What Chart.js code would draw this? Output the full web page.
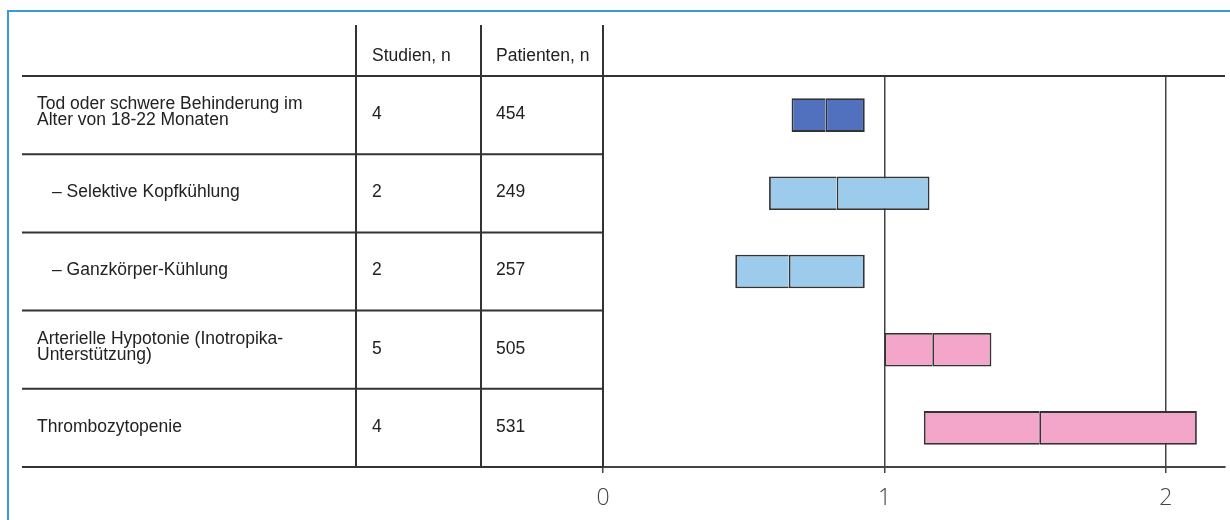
<!DOCTYPE html>
<html lang="de">
<head>
<meta charset="utf-8">
<title>Hypothermie – Meta-Analyse</title>
<script src="https://cdn.jsdelivr.net/npm/chart.js@4.4.1/dist/chart.umd.min.js"></script>
<style>
  html, body { margin: 0; padding: 0; background: #fff; }
  #wrap { position: relative; width: 1230px; height: 520px; }
  /* blue frame, only top and left edges are visible */
  #wrap::before {
    content: ""; position: absolute; left: 7px; top: 10px; right: 0; bottom: 0;
    border-left: 2px solid #3a9ad8; border-top: 2px solid #3a9ad8;
    pointer-events: none;
  }
</style>
</head>
<body>
<div id="wrap"><canvas id="chart" width="1230" height="520"></canvas></div>
<script>
// ── Data ─────────────────────────────────────────────
const outcomes = [
  ["Tod oder schwere Behinderung im", "Alter von 18-22 Monaten"],
  ["– Selektive Kopfkühlung"],
  ["– Ganzkörper-Kühlung"],
  ["Arterielle Hypotonie (Inotropika-", "Unterstützung)"],
  ["Thrombozytopenie"]
];
const studies  = [4, 2, 2, 5, 4];
const patients = [454, 249, 257, 505, 531];
const lower    = [0.67, 0.59, 0.47, 1.00, 1.14];
const point    = [0.79, 0.83, 0.66, 1.17, 1.55];
const upper    = [0.93, 1.16, 0.93, 1.38, 2.11];
const xTicks   = [0, 1, 2];
const headers  = ["Studien, n", "Patienten, n"];

const rowColors = ["#5170bd", "#9ccbec", "#9ccbec", "#f3a6c9", "#f3a6c9"];
const LINE = "#333";
const TEXT_FONT = '17.5px "Liberation Sans", Arial, sans-serif';

// ── Table on the left, rows follow the y scale ───────
const tablePlugin = {
  id: "table",
  afterDraw(chart) {
    const { ctx, chartArea: a, scales: { y } } = chart;
    const left = 22, top = 25, col1 = 356, col2 = 481;
    const band = y.getPixelForValue(1) - y.getPixelForValue(0);

    ctx.save();
    ctx.strokeStyle = LINE;
    ctx.lineWidth = 2;
    ctx.beginPath();
    ctx.moveTo(left, a.top); ctx.lineTo(a.right, a.top);
    outcomes.forEach((_, i) => {
      const yb = y.getPixelForValue(i) + band / 2;
      ctx.moveTo(left, yb); ctx.lineTo(a.left, yb);
    });
    [col1, col2, a.left].forEach(x => {
      ctx.moveTo(x, top); ctx.lineTo(x, a.bottom);
    });
    ctx.stroke();

    ctx.fillStyle = "#222";
    ctx.font = TEXT_FONT;
    ctx.textBaseline = "middle";
    ctx.textAlign = "left";
    ctx.fillText(headers[0], col1 + 16, 56);
    ctx.fillText(headers[1], col2 + 15, 56);

    outcomes.forEach((lines, i) => {
      const c = y.getPixelForValue(i);
      const x0 = lines[0].startsWith("–") ? 52 : 37;
      lines.forEach((t, k) => {
        ctx.fillText(t, x0, c - 1 - (lines.length - 1) * 10 + k * 16);
      });
      ctx.fillText(String(studies[i]), col1 + 16, c - 1);
      ctx.fillText(String(patients[i]), col2 + 15, c - 1);
    });
    ctx.restore();
  }
};

// ── Chart ────────────────────────────────────────────
const barStyle = {
  backgroundColor: rowColors,
  borderColor: "#333",
  borderWidth: 1.8,
  grouped: false,
  barPercentage: 0.43,
  categoryPercentage: 1
};

new Chart(document.getElementById("chart"), {
  type: "bar",
  data: {
    labels: outcomes,
    datasets: [
      // lower half: no right edge, so only one line marks the point estimate
      { label: "untere Grenze", data: lower.map((l, i) => [l, point[i]]), ...barStyle, borderSkipped: "right" },
      { label: "obere Grenze",  data: point.map((p, i) => [p, upper[i]]), ...barStyle, borderSkipped: false }
    ]
  },
  options: {
    indexAxis: "y",
    responsive: false,
    animation: false,
    layout: { padding: { left: 603, right: 5, top: 76, bottom: 0 } },
    plugins: { legend: { display: false }, tooltip: { enabled: false } },
    scales: {
      x: {
        type: "linear",
        min: 0,
        max: 2.21,
        afterBuildTicks: s => { s.ticks = xTicks.map(v => ({ value: v })); },
        afterFit: s => { s.height = 53; },
        ticks: {
          color: "#444",
          padding: 12,
          font: { family: "'Open Sans', 'DejaVu Sans', sans-serif", size: 23, weight: 300 }
        },
        grid: { color: "#444", lineWidth: 1.5, tickLength: 6 },
        border: { color: "#444", width: 2 }
      },
      y: { type: "category", display: false, offset: true }
    }
  },
  plugins: [tablePlugin]
});
</script>
</body>
</html>
